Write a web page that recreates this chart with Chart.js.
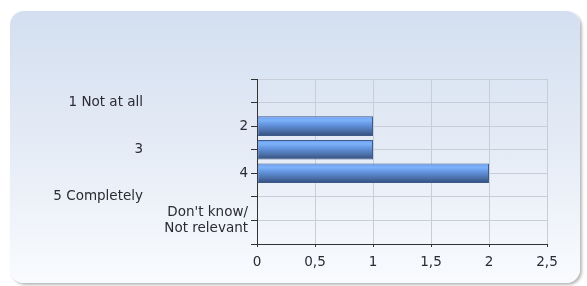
<!DOCTYPE html>
<html>
<head>
<meta charset="utf-8">
<script src="https://cdn.jsdelivr.net/npm/chart.js@4/dist/chart.umd.min.js"></script>
<style>
    html, body { margin: 0; padding: 0; background: #fff; }
    body { width: 587px; height: 286px; position: relative; overflow: hidden; }
    .panel {
        position: absolute; left: 10px; top: 11px; width: 570px; height: 272px;
        border-radius: 14px;
        background: linear-gradient(to bottom, #d3dff0 0%, #e3eaf5 45%, #f9fbfe 100%);
        box-shadow: 2px 2px 3px rgba(0, 0, 0, 0.28), -1px -1px 4px rgba(255, 255, 255, 0.9);
    }
    #chart { position: absolute; left: 0; top: 0; }
</style>
</head>
<body>
<div class="panel"></div>
<canvas id="chart" width="587" height="286"></canvas>
<script>
const categories = ['1 Not at all', '2', '3', '4', '5 Completely', ["Don't know/", 'Not relevant']];
const counts = [0, 1, 1, 2, 0, 0];
const xTicks = [0, 0.5, 1, 1.5, 2, 2.5];

const font = { family: 'DejaVu Sans', size: 13.5, lineHeight: 1.2 };
const textColor = '#2b2b33';
const gridColor = '#c8ced8';

// positions 1..6 on a 0..7 axis leave one empty band above and below
const labelAt = (v, keepOdd) => {
    const i = v - 1;
    if (i < 0 || i >= categories.length) return '';
    return (i % 2 === 0) === keepOdd ? categories[i] : '';
};

const barFill = (ctx) => {
    const chart = ctx.chart;
    const y = chart.scales.y;
    if (!y || !chart.chartArea) return '#5b8fe0';
    const c = y.getPixelForValue(ctx.dataIndex + 1);
    const g = chart.ctx.createLinearGradient(0, c - 10, 0, c + 10);
    g.addColorStop(0, '#6a9ef0');
    g.addColorStop(0.2, '#7db2fb');
    g.addColorStop(0.45, '#6192dc');
    g.addColorStop(0.75, '#4b6ea6');
    g.addColorStop(1, '#304b7b');
    return g;
};

new Chart(document.getElementById('chart'), {
    type: 'bar',
    data: {
        datasets: [{
            data: counts.map((v, i) => ({ x: v, y: i + 1 })),
            backgroundColor: barFill,
            borderColor: '#3d5a88',
            borderWidth: 1,
            borderSkipped: false,
            barPercentage: 1,
            categoryPercentage: 0.83
        }]
    },
    options: {
        indexAxis: 'y',
        responsive: false,
        animation: false,
        layout: { padding: { top: 79, right: 40, left: 0, bottom: 0 } },
        plugins: { legend: { display: false }, tooltip: { enabled: false } },
        scales: {
            x: {
                type: 'linear',
                min: 0,
                max: 2.5,
                afterBuildTicks: scale => { scale.ticks = xTicks.map(value => ({ value })); },
                afterFit: scale => { scale.height = 42; },
                ticks: {
                    font, color: textColor, padding: 7, maxRotation: 0,
                    callback: v => String(v).replace('.', ',')
                },
                grid: { color: gridColor, tickColor: '#333', tickLength: 3 },
                border: { color: '#333', width: 1 }
            },
            y: {
                type: 'linear',
                position: 'left',
                reverse: true,
                offset: false,
                min: 0,
                max: 7,
                weight: 0,
                afterFit: scale => { scale.width = 111; },
                ticks: {
                    stepSize: 1, autoSkip: false, font, color: textColor, padding: 3,
                    callback: v => labelAt(v, false)
                },
                grid: { offset: false, color: gridColor, tickColor: '#333', tickLength: 6 },
                border: { color: '#333', width: 1 }
            },
            y2: {
                type: 'linear',
                position: 'left',
                reverse: true,
                offset: false,
                min: 0,
                max: 7,
                weight: 1,
                afterFit: scale => { scale.width = 146; },
                ticks: {
                    stepSize: 1, autoSkip: false, font, color: textColor, padding: 3,
                    callback: v => labelAt(v, true)
                },
                grid: { display: false, drawTicks: false, offset: false },
                border: { display: false }
            }
        }
    }
});
</script>
</body>
</html>
